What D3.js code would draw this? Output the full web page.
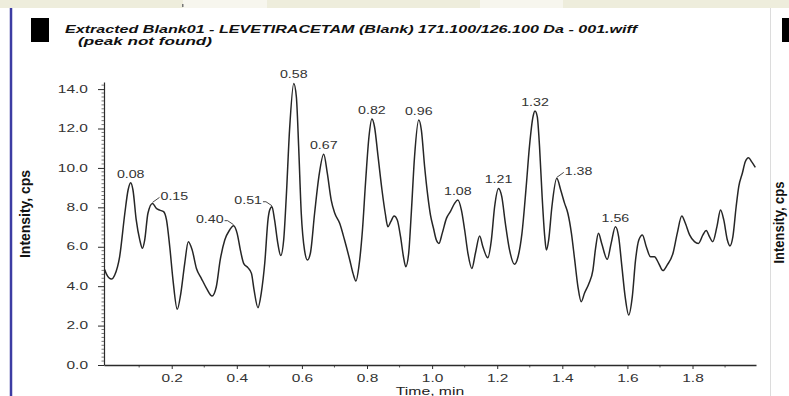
<!DOCTYPE html>
<html><head><meta charset="utf-8">
<script src="https://cdn.jsdelivr.net/npm/d3@7"></script>
<style>body{margin:0;background:#fff}svg{display:block}</style>
</head><body>
<svg id="c" width="789" height="396"></svg>
<script>
// ---------- data ----------
const titleText = "Extracted Blank01 - LEVETIRACETAM (Blank) 171.100/126.100 Da - 001.wiff";
const subtitleText = "(peak not found)";
const xTitle = "Time, min";
const yTitle = "Intensity, cps";

const times = [-0.006,0.000,0.015,0.025,0.040,0.056,0.066,0.074,0.081,0.091,0.102,0.110,0.117,0.127,0.141,0.153,0.163,0.175,0.184,0.194,
0.204,0.217,0.228,0.240,0.251,0.263,0.276,0.291,0.307,0.324,0.337,0.349,0.363,0.378,0.390,0.401,0.411,0.421,0.434,0.445,
0.453,0.465,0.475,0.486,0.496,0.501,0.508,0.516,0.526,0.535,0.544,0.552,0.562,0.575,0.583,0.590,0.598,0.608,0.617,0.626,
0.639,0.652,0.667,0.678,0.690,0.701,0.716,0.731,0.747,0.757,0.766,0.775,0.786,0.796,0.806,0.815,0.823,0.834,0.846,0.856,
0.864,0.873,0.883,0.893,0.903,0.912,0.919,0.928,0.936,0.946,0.959,0.967,0.977,0.987,0.995,1.004,1.013,1.021,1.031,1.044,
1.056,1.069,1.079,1.090,1.100,1.110,1.122,1.133,1.146,1.156,1.171,1.182,1.192,1.204,1.214,1.225,1.238,1.253,1.264,1.276,
1.289,1.299,1.310,1.316,1.323,1.330,1.338,1.346,1.351,1.358,1.368,1.383,1.395,1.407,1.417,1.428,1.438,1.448,1.458,1.468,
1.482,1.494,1.502,1.511,1.521,1.538,1.550,1.563,1.573,1.583,1.593,1.604,1.615,1.625,1.635,1.646,1.658,1.671,1.683,1.696,
1.709,1.722,1.740,1.753,1.767,1.778,1.791,1.806,1.818,1.832,1.842,1.852,1.862,1.875,1.886,1.896,1.907,1.915,1.924,1.934,
1.942,1.953,1.962,1.972,1.982,1.993];
const intensity = [4.85,4.60,4.36,4.57,5.49,7.70,8.88,9.25,8.88,7.36,6.34,5.92,6.34,7.70,8.20,7.95,7.86,7.78,7.36,6.00,
4.31,2.83,3.64,5.16,6.26,5.83,4.90,4.40,3.89,3.50,3.97,5.33,6.34,6.85,7.07,6.68,5.83,5.16,4.94,4.65,
3.81,2.91,3.64,5.20,7.40,7.86,8.03,7.36,6.17,5.55,6.34,8.54,11.92,14.29,13.60,11.08,7.70,5.83,5.33,5.67,
7.70,9.55,10.70,9.73,8.37,7.70,7.19,6.34,5.33,4.65,4.26,4.99,6.85,9.39,11.58,12.48,12.09,10.57,8.88,7.70,
7.02,7.27,7.56,7.36,6.51,5.49,4.99,5.67,7.70,10.57,12.43,11.92,10.06,8.54,7.60,6.95,6.34,6.17,6.68,7.44,
7.78,8.20,8.37,7.86,6.85,5.67,4.90,5.67,6.54,6.00,5.44,6.34,8.03,8.96,8.54,7.19,5.83,5.11,5.49,6.68,
9.05,11.08,12.60,12.89,12.60,11.08,8.54,6.51,5.83,6.34,8.03,9.47,8.88,8.20,7.70,6.68,5.33,3.97,3.21,3.64,
4.15,4.82,5.90,6.68,6.17,5.36,6.17,7.02,6.51,4.99,3.47,2.54,3.47,5.33,6.34,6.60,6.00,5.49,5.49,5.16,
4.79,5.07,5.67,6.68,7.56,7.19,6.60,6.26,6.17,6.60,6.82,6.51,6.26,7.02,7.86,7.36,6.34,6.04,6.51,8.03,
9.05,9.73,10.31,10.52,10.31,10.03];

const peakLabels = ["0.08","0.15","0.40","0.51","0.58","0.67","0.82","0.96","1.08","1.21","1.32","1.38","1.56"];
const peakSides  = ["c","r","l","l","c","c","c","c","c","c","c","r","c"];

const yTicks = [0,2,4,6,8,10,12,14];
const xTicks = [0.2,0.4,0.6,0.8,1.0,1.2,1.4,1.6,1.8];
const xMinorTicks = [0.1,0.3,0.5,0.7,0.9,1.1,1.3,1.5,1.7,1.9];

// ---------- layout ----------
const svg = d3.select("#c");
const ink = "#2b2b2b";
const x = d3.scaleLinear().domain([-0.008, 1.995]).range([104, 756]);
const y = d3.scaleLinear().domain([0, 14.36]).range([365, 82]);

// window chrome
svg.append("rect").attr("x",0).attr("y",0).attr("width",789).attr("height",8).attr("fill","#eeeddc");
svg.append("rect").attr("x",183).attr("y",0).attr("width",84).attr("height",8).attr("fill","#f7f6ee");
svg.append("rect").attr("x",480).attr("y",0).attr("width",83).attr("height",8).attr("fill","#f7f6ee");
svg.append("rect").attr("x",182).attr("y",4).attr("width",1.5).attr("height",3).attr("fill","#777");
svg.append("line").attr("x1",11).attr("x2",11).attr("y1",8).attr("y2",396).attr("stroke","#3d3da3").attr("stroke-width",2.5);
svg.append("line").attr("x1",770.5).attr("x2",770.5).attr("y1",8).attr("y2",396).attr("stroke","#dcdcdc").attr("stroke-width",1);
svg.append("rect").attr("x",31).attr("y",18).attr("width",18).attr("height",24).attr("fill","#000");
svg.append("rect").attr("x",782).attr("y",18).attr("width",7).attr("height",24).attr("fill","#000");

// title
svg.append("text").attr("x",65).attr("y",32.5).text(titleText)
  .attr("font-family","Liberation Sans, Arial, sans-serif").attr("font-size",11.5)
  .attr("font-weight","bold").attr("font-style","italic").attr("fill","#111")
  .attr("textLength",572).attr("lengthAdjust","spacingAndGlyphs");
svg.append("text").attr("x",78).attr("y",44.5).text(subtitleText)
  .attr("font-family","Liberation Sans, Arial, sans-serif").attr("font-size",11.5)
  .attr("font-weight","bold").attr("font-style","italic").attr("fill","#111")
  .attr("textLength",134).attr("lengthAdjust","spacingAndGlyphs");

// y titles
svg.append("text").attr("transform","translate(30,214) rotate(-90)").attr("text-anchor","middle")
  .attr("font-family","Liberation Sans Narrow, Arial Narrow, Liberation Sans, sans-serif")
  .attr("font-size",15).attr("font-weight","bold").attr("fill","#111")
  .attr("textLength",88).attr("lengthAdjust","spacingAndGlyphs").text(yTitle);
svg.append("text").attr("transform","translate(784,222.5) rotate(-90)").attr("text-anchor","middle")
  .attr("font-family","Liberation Sans Narrow, Arial Narrow, Liberation Sans, sans-serif")
  .attr("font-size",14).attr("font-weight","bold").attr("fill","#111")
  .attr("textLength",82).attr("lengthAdjust","spacingAndGlyphs").text(yTitle);

const font = "Liberation Sans, Arial, sans-serif";

// y axis
const gy = svg.append("g").attr("transform","translate(104,0)")
  .call(d3.axisLeft(y).tickValues(yTicks).tickSize(6).tickSizeOuter(0).tickFormat(d3.format(".1f")));
gy.select(".domain").attr("stroke",ink).attr("stroke-width",1.2);
gy.selectAll(".tick line").attr("stroke",ink).attr("stroke-width",1);
gy.selectAll(".tick text").attr("x",0).attr("transform","translate(-16,0) scale(1.55,1)")
  .attr("font-family",font).attr("font-size",10).attr("fill","#333");
const yMinor = d3.range(0, 14.35, 0.2).filter(v => Math.abs(v/2 - Math.round(v/2)) > 1e-6);
gy.selectAll(".minor").data(yMinor).join("line").attr("class","minor")
  .attr("x1",-2.5).attr("x2",0).attr("y1",d=>y(d)).attr("y2",d=>y(d))
  .attr("stroke","#555").attr("stroke-width",0.8);

// x axis
const gx = svg.append("g").attr("transform","translate(0,365)")
  .call(d3.axisBottom(x).tickValues(xTicks).tickSize(4).tickSizeOuter(0).tickFormat(d3.format(".1f")));
gx.select(".domain").attr("stroke",ink).attr("stroke-width",1.4);
gx.selectAll(".tick line").attr("stroke",ink);
gx.selectAll(".tick text").attr("y",10).attr("transform","scale(1.55,1)")
  .attr("font-family",font).attr("font-size",10).attr("fill","#333");
gx.selectAll(".tick text").attr("transform",null).each(function(){
  const t = d3.select(this);
  t.attr("transform","scale(1.55,1)");
});
gx.selectAll(".minor").data(xMinorTicks).join("line").attr("class","minor")
  .attr("x1",d=>x(d)).attr("x2",d=>x(d)).attr("y1",0).attr("y2",2.5)
  .attr("stroke",ink).attr("stroke-width",0.8);
svg.append("text").attr("transform","translate(430,395) scale(1.43,1)").attr("text-anchor","middle")
  .attr("font-family",font).attr("font-size",11).attr("fill","#222").text(xTitle);

// trace
const pts = times.map((t,i)=>[t,intensity[i]]);
svg.append("path").datum(pts)
  .attr("d", d3.line().x(d=>x(d[0])).y(d=>y(d[1])).curve(d3.curveMonotoneX))
  .attr("fill","none").attr("stroke","#262626").attr("stroke-width",1.5).attr("stroke-linejoin","round");

// peak labels
const gl = svg.append("g");
peakLabels.forEach((lab,i)=>{
  const t0 = +lab;
  let best = -1;
  pts.forEach((p,j)=>{ if (Math.abs(p[0]-t0) <= 0.02 && (best<0 || p[1] > pts[best][1])) best = j; });
  const px = x(pts[best][0]), py = y(pts[best][1]);
  const side = peakSides[i];
  let tx, ty, anchor;
  if (side === "c") { tx = px; ty = py - 5; anchor = "middle"; }
  else if (side === "r") {
    gl.append("path").attr("d",`M${px},${py-1}L${px+7},${py-6}`).attr("stroke","#333").attr("fill","none").attr("stroke-width",0.9);
    tx = px + 8; ty = py - 3; anchor = "start";
  } else {
    gl.append("path").attr("d",`M${px},${py-1}L${px-6},${py-5}L${px-9},${py-5}`).attr("stroke","#333").attr("fill","none").attr("stroke-width",0.9);
    tx = px - 10; ty = py - 3; anchor = "end";
  }
  gl.append("text").attr("transform",`translate(${tx},${ty}) scale(1.42,1)`).attr("text-anchor",anchor)
    .attr("font-family",font).attr("font-size",10).attr("fill","#333").text(lab);
});
</script>
</body></html>
